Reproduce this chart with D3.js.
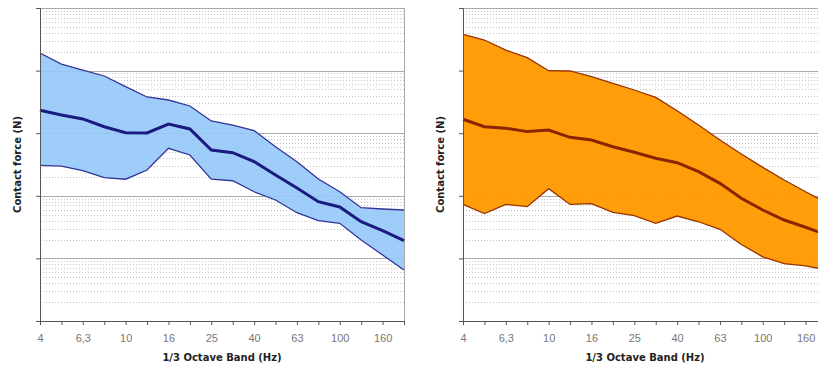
<!DOCTYPE html>
<html>
<head>
<meta charset="utf-8">
<script src="https://cdn.jsdelivr.net/npm/d3@7"></script>
<style>
  html, body { margin: 0; padding: 0; background: #fff; }
  svg { display: block; }
  .tick text { font-family: "Liberation Sans", Arial, sans-serif; font-size: 11px; fill: #777; }
  .axis-title { font-family: "DejaVu Sans", "Liberation Sans", sans-serif; font-weight: bold; font-size: 10px; fill: #222; }
</style>
</head>
<body>
<svg id="chart" width="818" height="367"></svg>
<script>
// 1/3 octave bands (Hz)
const bands = ["4","5","6,3","8","10","12,5","16","20","25","31,5","40","50","63","80","100","125","160","200"];

// left panel (blue) - contact force, N
const leftUpper  = [19.1,12.7,10.2,8.2,5.53,3.79,3.39,2.72,1.57,1.35,1.10,0.608,0.351,0.185,0.116,0.0646,0.0615,0.0593];
const leftMedian = [2.32,1.95,1.69,1.27,1.02,1.01,1.40,1.17,0.540,0.488,0.351,0.215,0.133,0.0805,0.0662,0.0385,0.0277,0.0192];
const leftLower  = [0.307,0.299,0.252,0.195,0.184,0.258,0.574,0.449,0.184,0.174,0.116,0.0857,0.0537,0.0400,0.0364,0.0197,0.0113,0.00653];

// right panel (orange)
const rightUpper  = [38.0,30.8,21.3,16.1,9.96,9.86,8.0,6.27,4.90,3.74,2.29,1.35,0.778,0.466,0.285,0.179,0.116,0.0767];
const rightMedian = [1.67,1.27,1.20,1.06,1.12,0.859,0.778,0.608,0.496,0.397,0.338,0.243,0.158,0.0912,0.0593,0.0410,0.0314,0.0237];
const rightLower  = [0.0731,0.0521,0.0728,0.0670,0.130,0.0728,0.0748,0.0544,0.0484,0.0364,0.0475,0.0385,0.0292,0.0167,0.0106,0.00822,0.00762,0.00653];

const yDomain = [0.001, 100];

const svg = d3.select("#chart");
const plotW = 364, plotH = 313;

function drawPanel(left, upper, median, lower, colors) {
  const g = svg.append("g").attr("transform", `translate(${left},8)`);

  const x = d3.scalePoint().domain(bands).range([0, plotW]);
  const y = d3.scaleLog().domain(yDomain).range([plotH, 0]);

  // grid
  const ticks = y.ticks();
  const isMajor = v => Math.abs(Math.log10(v) - Math.round(Math.log10(v))) < 1e-6;
  g.append("g").selectAll("line")
    .data(ticks.filter(v => !isMajor(v)))
    .join("line")
    .attr("x1", 0).attr("x2", plotW)
    .attr("y1", d => Math.round(y(d)) + 0.5).attr("y2", d => Math.round(y(d)) + 0.5)
    .attr("stroke", "#c4c4c4").attr("stroke-dasharray", "1,2");
  g.append("g").selectAll("line")
    .data(ticks.filter(v => isMajor(v) && v > yDomain[0]))
    .join("line")
    .attr("x1", 0).attr("x2", plotW)
    .attr("y1", d => Math.round(y(d)) + 0.5).attr("y2", d => Math.round(y(d)) + 0.5)
    .attr("stroke", "#aaa");

  // right frame
  g.append("line").attr("x1", plotW + 0.5).attr("x2", plotW + 0.5).attr("y1", 0).attr("y2", plotH)
    .attr("stroke", "#aaa");

  const pts = bands.map((b, i) => ({ b, hi: upper[i], md: median[i], lo: lower[i] }));

  const area = d3.area().x(d => x(d.b)).y0(d => y(d.lo)).y1(d => y(d.hi));
  g.append("path").datum(pts).attr("d", area)
    .attr("fill", colors.fill).attr("fill-opacity", colors.opacity);

  const lineOf = key => d3.line().x(d => x(d.b)).y(d => y(d[key]));
  g.append("path").datum(pts).attr("d", lineOf("hi"))
    .attr("fill", "none").attr("stroke", colors.edge).attr("stroke-width", 1.3);
  g.append("path").datum(pts).attr("d", lineOf("lo"))
    .attr("fill", "none").attr("stroke", colors.edge).attr("stroke-width", 1.3);
  g.append("path").datum(pts).attr("d", lineOf("md"))
    .attr("fill", "none").attr("stroke", colors.median).attr("stroke-width", 3);

  // axes
  const xAxis = g.append("g").attr("transform", `translate(0,${plotH})`)
    .call(d3.axisBottom(x).tickSize(4).tickPadding(9).tickFormat((d, i) => i % 2 ? "" : d));
  xAxis.select(".domain").attr("stroke", "#555");
  xAxis.selectAll(".tick line").attr("stroke", "#555");

  const yAxis = g.append("g")
    .call(d3.axisLeft(y).tickValues([0.001, 0.01, 0.1, 1, 10, 100]).tickSize(4).tickFormat(""));
  yAxis.select(".domain").attr("stroke", "#555");
  yAxis.selectAll(".tick line").attr("stroke", "#555");

  g.append("text").attr("class", "axis-title")
    .attr("x", plotW / 2).attr("y", 353)
    .attr("text-anchor", "middle")
    .text("1/3 Octave Band (Hz)");

  g.append("text").attr("class", "axis-title")
    .attr("transform", `translate(-19,${plotH / 2}) rotate(-90)`)
    .attr("text-anchor", "middle")
    .text("Contact force (N)");
}

drawPanel(40, leftUpper, leftMedian, leftLower,
  { fill: "#94c8fa", edge: "#333399", median: "#1a1a80", opacity: 0.9 });
drawPanel(463, rightUpper, rightMedian, rightLower,
  { fill: "#ff9900", edge: "#993300", median: "#8b2500", opacity: 0.96 });
</script>
</body>
</html>
